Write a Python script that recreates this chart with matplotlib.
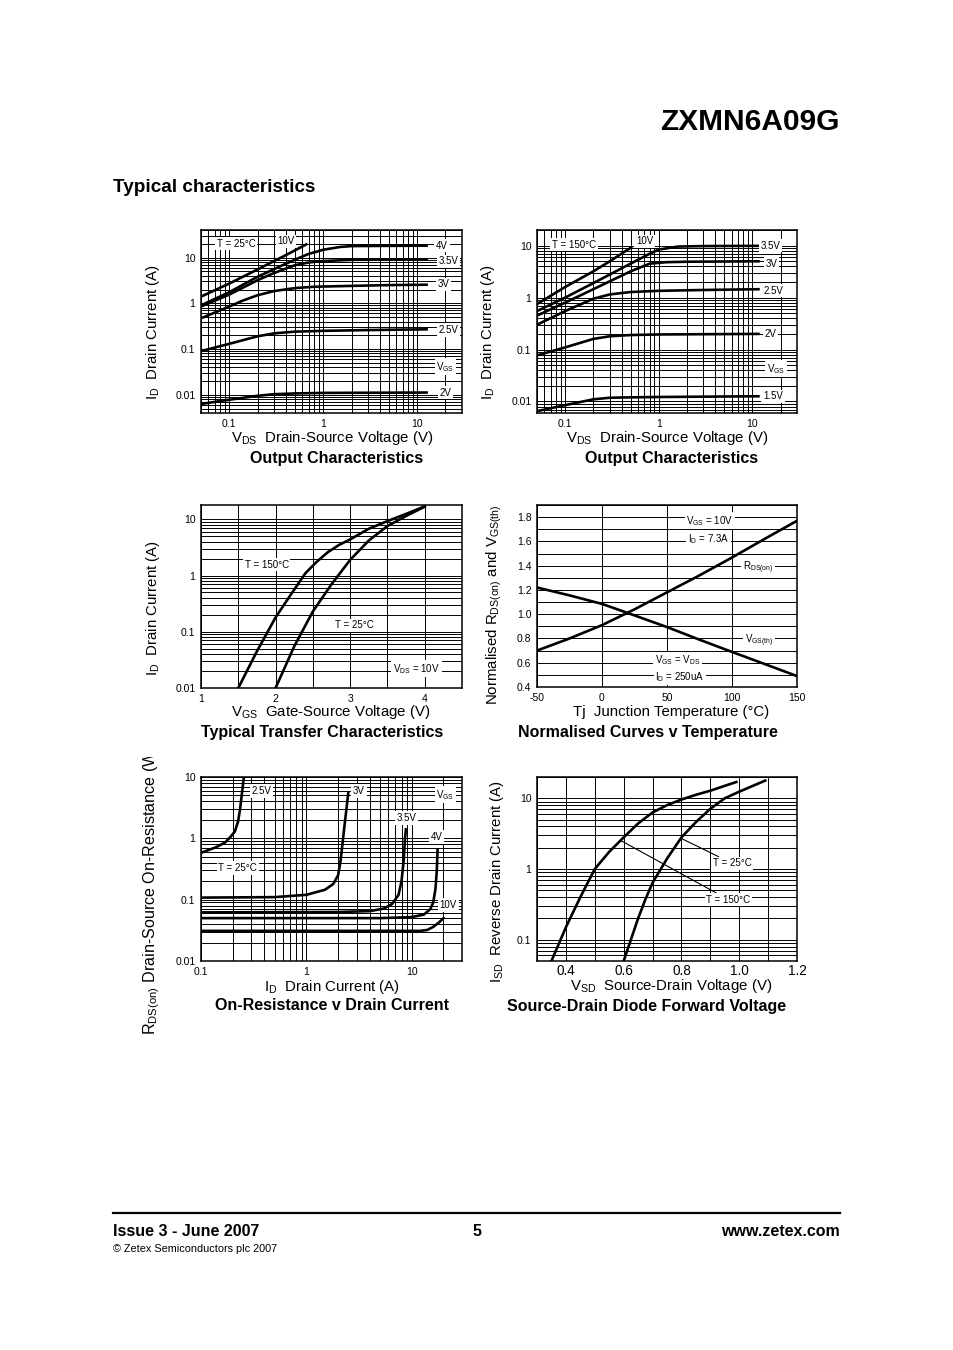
import matplotlib
matplotlib.use("Agg")
import matplotlib.pyplot as plt
from matplotlib.ticker import LogLocator, FixedLocator, MultipleLocator, FuncFormatter, NullFormatter
from matplotlib.transforms import Bbox, TransformedBbox

plt.rcParams['font.family'] = ['Liberation Sans', 'DejaVu Sans']
plt.rcParams['mathtext.fontset'] = 'custom'
plt.rcParams['mathtext.rm'] = 'Liberation Sans'
plt.rcParams['mathtext.it'] = 'Liberation Sans:italic'
plt.rcParams['mathtext.bf'] = 'Liberation Sans:bold'
plt.rcParams['axes.unicode_minus'] = False

# -------------------------
# output characteristics, T = 25C  (VDS, ID)
out25_vds = {
    "10V": [0.05, 0.1, 0.2, 0.4, 0.68],
    "4V": [0.05, 0.1, 0.2, 0.3, 0.5, 0.7, 1.0, 1.5, 2, 5, 13],
    "3.5V": [0.05, 0.1, 0.2, 0.3, 0.5, 0.7, 1.0, 2, 5, 13],
    "3V": [0.05, 0.1, 0.14, 0.2, 0.3, 0.5, 0.8, 2, 5, 13],
    "2.5V": [0.05, 0.1, 0.2, 0.3, 0.5, 1, 3, 13],
    "2V": [0.05, 0.1, 0.2, 0.3, 0.5, 1, 13],
}
out25_id = {
    "10V": [1.4, 2.7, 5.5, 11.3, 20],
    "4V": [0.9, 1.75, 3.8, 5.6, 9, 12, 14.8, 17, 17.8, 18, 18.2],
    "3.5V": [0.85, 1.55, 3.2, 4.6, 6.8, 7.8, 8.4, 8.9, 9, 9.1],
    "3V": [0.47, 0.85, 1.15, 1.5, 1.85, 2.15, 2.3, 2.4, 2.5, 2.55],
    "2.5V": [0.09, 0.13, 0.19, 0.22, 0.24, 0.25, 0.26, 0.27],
    "2V": [0.0063, 0.0078, 0.0095, 0.0103, 0.0107, 0.011, 0.0112],
}

# output characteristics, T = 150C
out150_vds = {
    "10V": [0.05, 0.1, 0.2, 0.3, 0.52],
    "3.5V": [0.05, 0.1, 0.2, 0.5, 0.8, 1.0, 1.6, 3, 10, 12],
    "3V": [0.05, 0.1, 0.2, 0.5, 0.8, 1.2, 2, 12],
    "2.5V": [0.05, 0.1, 0.2, 0.3, 0.5, 1, 3, 12],
    "2V": [0.05, 0.1, 0.2, 0.3, 0.5, 1, 12],
    "1.5V": [0.05, 0.1, 0.2, 0.3, 0.5, 1, 12],
}
out150_id = {
    "10V": [0.75, 1.6, 3.2, 5.0, 9.5],
    "3.5V": [0.55, 1.0, 1.9, 4.5, 7.0, 8.4, 9.6, 9.8, 9.9, 9.9],
    "3V": [0.45, 0.8, 1.45, 3.2, 4.5, 4.8, 4.9, 5.0],
    "2.5V": [0.3, 0.55, 0.95, 1.15, 1.28, 1.35, 1.4, 1.45],
    "2V": [0.077, 0.11, 0.16, 0.18, 0.19, 0.195, 0.2],
    "1.5V": [0.0065, 0.0085, 0.011, 0.0118, 0.012, 0.0122, 0.0126],
}

# transfer characteristics (VGS, ID)
tr150_vgs = [1.5, 1.75, 2.0, 2.2, 2.4, 2.55, 2.7, 2.85, 3.0, 3.25, 3.5, 3.75, 4.0]
tr150_id = [0.01, 0.045, 0.18, 0.45, 1.1, 1.75, 2.6, 3.5, 4.4, 6.8, 9.3, 12.5, 17]
tr25_vgs = [2.0, 2.25, 2.5, 2.75, 3.0, 3.25, 3.5, 3.75, 4.0]
tr25_id = [0.01, 0.055, 0.23, 0.7, 1.9, 4.2, 7.6, 11.5, 16.8]

# normalised curves v temperature
tj = [-50, -25, 0, 25, 50, 75, 100, 125, 150]
rdson_norm = [0.70, 0.80, 0.91, 1.04, 1.18, 1.32, 1.467, 1.62, 1.77]
vgsth_norm = [1.22, 1.155, 1.085, 0.99, 0.894, 0.79, 0.689, 0.59, 0.49]

# on-resistance v drain current (ID, RDS(on))
ron_id = {
    "2.5V": [0.1, 0.14, 0.17, 0.19, 0.21, 0.225, 0.235, 0.245, 0.255],
    "3V": [0.1, 0.5, 1.0, 1.5, 1.8, 2.0, 2.1, 2.2, 2.3, 2.4, 2.5],
    "3.5V": [0.1, 2, 4, 5.5, 6.5, 7.5, 8.0, 8.4, 8.6, 8.8],
    "4V": [0.1, 5, 10, 13, 15, 16, 16.8, 17.3, 17.6],
    "10V": [0.1, 5, 12, 14, 16, 18, 20],
}
ron_r = {
    "2.5V": [0.58, 0.72, 0.86, 1.05, 1.3, 1.9, 3, 5.5, 10],
    "3V": [0.108, 0.11, 0.12, 0.145, 0.18, 0.25, 0.4, 0.8, 1.6, 3, 5.5],
    "3.5V": [0.062, 0.063, 0.065, 0.072, 0.085, 0.12, 0.2, 0.45, 0.9, 1.4],
    "4V": [0.05, 0.05, 0.052, 0.057, 0.07, 0.09, 0.15, 0.3, 0.65],
    "10V": [0.031, 0.031, 0.031, 0.032, 0.036, 0.042, 0.05],
}

# source-drain diode forward voltage (VSD, ISD)
sd150_v = [0.35, 0.4, 0.45, 0.5, 0.55, 0.6, 0.65, 0.7, 0.75, 0.8, 0.85, 0.9, 0.95, 0.99]
sd150_i = [0.05, 0.15, 0.4, 1.0, 1.75, 2.8, 4.4, 6.3, 8.0, 9.6, 11.2, 12.8, 15, 17]
sd25_v = [0.6, 0.625, 0.65, 0.675, 0.7, 0.75, 0.8, 0.85, 0.9, 0.95, 1.0, 1.09]
sd25_i = [0.05, 0.1, 0.2, 0.37, 0.64, 1.4, 2.8, 4.6, 7.1, 10, 12.4, 17.8]

# -------------------------
W, H = 954, 1350
fig = plt.figure(figsize=(W / 100, H / 100), dpi=100)

LW = 1.9
LAB = 10.8
BOX = dict(facecolor='white', edgecolor='none', pad=1.2)
fmt = FuncFormatter(lambda v, _: f"{v:g}")


def put(px, py, s, **kw):
    return fig.text(px / W, 1 - py / H, s, **kw)


def panel(l, t, r, b):
    ax = fig.add_axes([l / W, 1 - b / H, (r - l) / W, (b - t) / H])
    ax.tick_params(which='both', length=0, labelsize=7.5, pad=4)
    for sp in ax.spines.values():
        sp.set_linewidth(1.1)
    return ax


def log_axis(axis, major):
    axis.set_major_locator(FixedLocator(major))
    axis.set_minor_locator(LogLocator(base=10, subs=list(range(2, 10)), numticks=100))
    axis.set_major_formatter(fmt)
    axis.set_minor_formatter(NullFormatter())


def grid(ax):
    ax.grid(True, which='both', color='black', lw=0.7)
    ax.set_axisbelow(True)


def lab(ax, x, y, s, size=7, box=True):
    ax.text(x, y, s, fontsize=size, ha='center', va='center',
            bbox=BOX if box else None, zorder=5)


# header / footer
put(840, 122, "ZXMN6A09G", fontsize=21.5, fontweight='bold', ha='right', va='center')
put(113, 188, "Typical characteristics", fontsize=13.6, fontweight='bold', ha='left', va='center')
fig.add_artist(plt.Line2D([113 / W, 840 / W], [1 - 1213 / H, 1 - 1213 / H], color='black', lw=1.6))
put(113, 1232, "Issue 3 - June 2007", fontsize=11.5, fontweight='bold', ha='left', va='center')
put(477, 1232, "5", fontsize=11.5, fontweight='bold', ha='center', va='center')
put(840, 1232, "www.zetex.com", fontsize=11.5, fontweight='bold', ha='right', va='center')
put(113, 1249, "© Zetex Semiconductors plc 2007", fontsize=7.8, ha='left', va='center')

# -------------------------
# panel 1: output characteristics 25C
ax1 = panel(201, 230, 462, 413)
ax1.set_xscale('log'); ax1.set_yscale('log')
ax1.set_xlim(0.05, 30); ax1.set_ylim(0.004, 40)
log_axis(ax1.xaxis, [0.1, 1, 10]); log_axis(ax1.yaxis, [0.01, 0.1, 1, 10])
grid(ax1)
for k in out25_vds:
    ax1.plot(out25_vds[k], out25_id[k], color='black', lw=LW, solid_capstyle='butt')
lab(ax1, 0.119, 20.1, "T = 25°C")
lab(ax1, 0.4, 22.6, "10V")
lab(ax1, 18.4, 18.2, "4V")
lab(ax1, 21.6, 8.3, "3.5V")
lab(ax1, 19.2, 2.59, "3V")
lab(ax1, 21.6, 0.259, "2.5V")
lab(ax1, 19.9, 0.041, r"V$_{\mathrm{GS}}$")
lab(ax1, 20.2, 0.0112, "2V")
put(153, 332, r"I$_{\mathrm{D}}$  Drain Current (A)", fontsize=LAB, rotation=90, ha='center', va='center')
put(332, 438, r"V$_{\mathrm{DS}}$  Drain-Source Voltage (V)", fontsize=LAB, ha='center', va='center')
put(337, 458, "Output Characteristics", fontsize=11.5, fontweight='bold', ha='center', va='center')

# panel 2: output characteristics 150C
ax2 = panel(537, 230, 797, 413)
ax2.set_xscale('log'); ax2.set_yscale('log')
ax2.set_xlim(0.05, 30); ax2.set_ylim(0.006, 20)
log_axis(ax2.xaxis, [0.1, 1, 10]); log_axis(ax2.yaxis, [0.01, 0.1, 1, 10])
grid(ax2)
for k in out150_vds:
    ax2.plot(out150_vds[k], out150_id[k], color='black', lw=LW, solid_capstyle='butt')
lab(ax2, 0.124, 10.4, "T = 150°C")
lab(ax2, 0.708, 12.1, "10V")
lab(ax2, 15.5, 10, "3.5V")
lab(ax2, 15.9, 4.45, "3V")
lab(ax2, 16.8, 1.36, "2.5V")
lab(ax2, 15.5, 0.2, "2V")
lab(ax2, 17.9, 0.0425, r"V$_{\mathrm{GS}}$")
lab(ax2, 16.6, 0.0125, "1.5V")
put(488, 332, r"I$_{\mathrm{D}}$  Drain Current (A)", fontsize=LAB, rotation=90, ha='center', va='center')
put(667, 438, r"V$_{\mathrm{DS}}$  Drain-Source Voltage (V)", fontsize=LAB, ha='center', va='center')
put(672, 458, "Output Characteristics", fontsize=11.5, fontweight='bold', ha='center', va='center')

# panel 3: transfer characteristics
ax3 = panel(201, 505, 462, 688)
ax3.set_yscale('log')
ax3.set_xlim(1, 4.5); ax3.set_ylim(0.01, 18)
ax3.xaxis.set_major_locator(FixedLocator([1, 2, 3, 4]))
ax3.xaxis.set_minor_locator(MultipleLocator(0.5))
ax3.xaxis.set_major_formatter(fmt)
log_axis(ax3.yaxis, [0.01, 0.1, 1, 10])
grid(ax3)
ax3.plot(tr150_vgs, tr150_id, color='black', lw=LW)
ax3.plot(tr25_vgs, tr25_id, color='black', lw=LW)
lab(ax3, 1.88, 1.57, "T = 150°C")
lab(ax3, 3.06, 0.13, "T = 25°C")
lab(ax3, 3.89, 0.022, r"V$_{\mathrm{DS}}$ = 10V")
put(153, 608, r"I$_{\mathrm{D}}$  Drain Current (A)", fontsize=LAB, rotation=90, ha='center', va='center')
put(331, 712, r"V$_{\mathrm{GS}}$  Gate-Source Voltage (V)", fontsize=LAB, ha='center', va='center')
put(322, 732, "Typical Transfer Characteristics", fontsize=11.5, fontweight='bold', ha='center', va='center')

# panel 4: normalised curves
ax4 = panel(537, 505, 797, 687)
ax4.set_xlim(-50, 150); ax4.set_ylim(0.4, 1.9)
ax4.xaxis.set_major_locator(MultipleLocator(50))
ax4.yaxis.set_major_locator(FixedLocator([0.4, 0.6, 0.8, 1.0, 1.2, 1.4, 1.6, 1.8]))
ax4.yaxis.set_minor_locator(MultipleLocator(0.1))
ax4.yaxis.set_major_formatter(FuncFormatter(lambda v, _: f"{v:.1f}"))
grid(ax4)
ax4.plot(tj, rdson_norm, color='black', lw=LW)
ax4.plot(tj, vgsth_norm, color='black', lw=LW)
lab(ax4, 83, 1.77, r"V$_{\mathrm{GS}}$ = 10V")
lab(ax4, 82, 1.62, r"I$_{\mathrm{D}}$ = 7.3A")
lab(ax4, 120, 1.38, r"R$_{\mathrm{DS(on)}}$")
lab(ax4, 121, 0.78, r"V$_{\mathrm{GS(th)}}$")
lab(ax4, 58, 0.62, r"V$_{\mathrm{GS}}$ = V$_{\mathrm{DS}}$")
lab(ax4, 60, 0.485, r"I$_{\mathrm{D}}$ = 250uA")
put(494, 605, r"Normalised R$_{\mathrm{DS(on)}}$ and V$_{\mathrm{GS(th)}}$", fontsize=LAB, rotation=90,
    ha='center', va='center')
put(671, 712, "Tj  Junction Temperature (°C)", fontsize=LAB, ha='center', va='center')
put(648, 733, "Normalised Curves v Temperature", fontsize=11.5, fontweight='bold', ha='center', va='center')

# panel 5: on-resistance v drain current
ax5 = panel(201, 777, 462, 961)
ax5.set_xscale('log'); ax5.set_yscale('log')
ax5.set_xlim(0.1, 30); ax5.set_ylim(0.01, 10)
log_axis(ax5.xaxis, [0.1, 1, 10]); log_axis(ax5.yaxis, [0.01, 0.1, 1, 10])
grid(ax5)
for k in ron_id:
    ax5.plot(ron_id[k], ron_r[k], color='black', lw=LW)
lab(ax5, 0.376, 5.9, "2.5V")
lab(ax5, 3.16, 5.9, "3V")
lab(ax5, 20.9, 5.1, r"V$_{\mathrm{GS}}$")
lab(ax5, 8.97, 2.14, "3.5V")
lab(ax5, 17.2, 1.05, "4V")
lab(ax5, 0.223, 0.328, "T = 25°C")
lab(ax5, 22.3, 0.082, "10V")
# the page cuts this label off at the top
t5 = put(152, 1035, r"R$_{\mathrm{DS(on)}}$ Drain-Source On-Resistance (W)", fontsize=11.6, rotation=90,
         ha='center', va='bottom')
t5.set_clip_box(TransformedBbox(Bbox([[0, 0], [1, 1 - 757 / H]]), fig.transFigure))
t5.set_clip_on(True)
put(332, 987, r"I$_{\mathrm{D}}$  Drain Current (A)", fontsize=LAB, ha='center', va='center')
put(332, 1006, "On-Resistance v Drain Current", fontsize=11.5, fontweight='bold', ha='center', va='center')

# panel 6: source-drain diode forward voltage
ax6 = panel(537, 777, 797, 961)
ax6.set_yscale('log')
ax6.set_xlim(0.3, 1.2); ax6.set_ylim(0.05, 20)
ax6.xaxis.set_major_locator(FixedLocator([0.4, 0.6, 0.8, 1.0, 1.2]))
ax6.xaxis.set_minor_locator(MultipleLocator(0.1))
ax6.xaxis.set_major_formatter(FuncFormatter(lambda v, _: f"{v:.1f}"))
log_axis(ax6.yaxis, [0.1, 1, 10])
ax6.tick_params(axis='x', labelsize=9.8, pad=2.5)
grid(ax6)
ax6.plot(sd150_v, sd150_i, color='black', lw=LW)
ax6.plot(sd25_v, sd25_i, color='black', lw=LW)
ax6.annotate("T = 25°C", xy=(0.8, 2.7), xytext=(0.976, 1.2), fontsize=7, ha='center', va='center',
             bbox=BOX, arrowprops=dict(arrowstyle='-', color='black', lw=0.8, shrinkA=0, shrinkB=0))
ax6.annotate("T = 150°C", xy=(0.592, 2.5), xytext=(0.962, 0.37), fontsize=7, ha='center', va='center',
             bbox=BOX, arrowprops=dict(arrowstyle='-', color='black', lw=0.8, shrinkA=0, shrinkB=0))
put(497, 882, r"I$_{\mathrm{SD}}$  Reverse Drain Current (A)", fontsize=LAB, rotation=90,
    ha='center', va='center')
put(671, 986, r"V$_{\mathrm{SD}}$  Source-Drain Voltage (V)", fontsize=LAB, ha='center', va='center')
put(647, 1006, "Source-Drain Diode Forward Voltage", fontsize=11.5, fontweight='bold', ha='center', va='center')

fig.savefig("out.png", dpi=100)
